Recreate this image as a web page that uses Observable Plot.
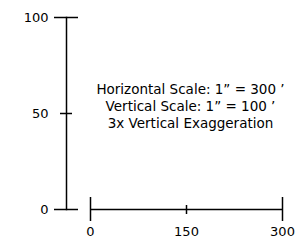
<!DOCTYPE html>
<html>
<head>
<meta charset="utf-8">
<script src="https://cdn.jsdelivr.net/npm/d3@7"></script>
<script src="https://cdn.jsdelivr.net/npm/@observablehq/plot@0.6"></script>
<style>
  html, body { margin: 0; padding: 0; background: #fff; }
  #chart svg { display: block; }
</style>
</head>
<body>
<div id="chart"></div>
<script>
// Scale-bar data
const xTicks = [0, 150, 300];
const xMajorTicks = [0, 300];
const xMinorTicks = [150];
const yTicks = [0, 50, 100];
const yMajorTicks = [0, 100];
const yMinorTicks = [50];
const noteLines = [
  "Horizontal Scale: 1\u201d = 300 \u2019",
  "Vertical Scale: 1\u201d = 100 \u2019",
  "3x Vertical Exaggeration"
];

const font = "DejaVu Sans, Verdana, sans-serif";
const sw = 1.5;

const chart = Plot.plot({
  width: 300,
  height: 240,
  marginTop: 17,
  marginBottom: 31,
  marginLeft: 66,
  marginRight: 0,
  style: { fontFamily: font, fontSize: "13px", color: "#000", background: "#fff" },
  x: { domain: [d3.min(xTicks), d3.max(xTicks)], range: [90, 282], label: null },
  y: { domain: [d3.min(yTicks), d3.max(yTicks)], label: null },
  marks: [
    // vertical axis line
    Plot.frame({ anchor: "left", stroke: "#000", strokeWidth: sw }),
    // horizontal scale line
    Plot.ruleY([0], { x1: d3.min(xTicks), x2: d3.max(xTicks), stroke: "#000", strokeWidth: sw }),
    // y ticks
    Plot.axisY(yMajorTicks, { anchor: "left", tickSize: 24, dx: 12, fill: "none", stroke: "#000", strokeWidth: sw, label: null }),
    Plot.axisY(yMinorTicks, { anchor: "left", tickSize: 12, dx: 6, fill: "none", stroke: "#000", strokeWidth: sw, label: null }),
    Plot.axisY(yTicks, { anchor: "left", tickSize: 0, tickPadding: 18, fill: "#000", fontSize: 13, label: null }),
    // x ticks
    Plot.axisX(xMajorTicks, { anchor: "bottom", tickSize: 24, dy: -12, fill: "none", stroke: "#000", strokeWidth: sw, label: null }),
    Plot.axisX(xMinorTicks, { anchor: "bottom", tickSize: 9, dy: -4, fill: "none", stroke: "#000", strokeWidth: sw, label: null }),
    Plot.axisX(xTicks, { anchor: "bottom", tickSize: 0, tickPadding: 17, fill: "#000", fontSize: 13, label: null }),
    // annotation
    Plot.text([noteLines.join("\n")], {
      frameAnchor: "middle",
      dx: 7,
      dy: -8,
      fontSize: 13.5,
      lineHeight: 1.25,
      fill: "#000",
      textAnchor: "middle"
    })
  ]
});
document.getElementById("chart").appendChild(chart);
</script>
</body>
</html>
